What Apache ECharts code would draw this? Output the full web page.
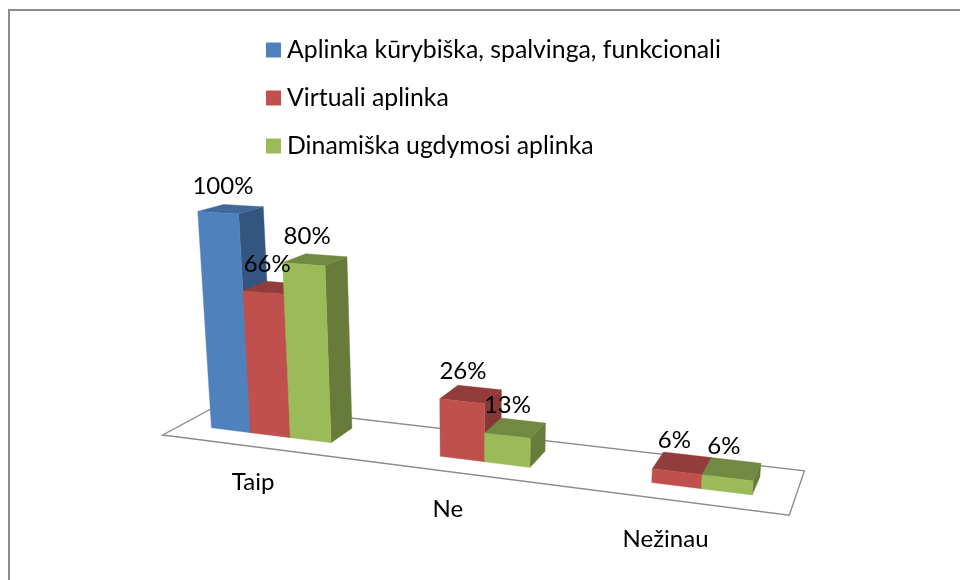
<!DOCTYPE html>
<html>
<head>
<meta charset="utf-8">
<style>html,body{margin:0;padding:0;background:#fff}#c{width:960px;height:580px}</style>
<script src="https://cdn.jsdelivr.net/npm/echarts@6/dist/echarts.min.js"></script>
</head>
<body>
<div id="c"></div>
<script>
var categories = ['Taip', 'Ne', 'Ne\u017Einau'];
var seriesNames = ['Aplinka k\u016Brybi\u0161ka, spalvinga, funkcionali', 'Virtuali aplinka', 'Dinami\u0161ka ugdymosi aplinka'];
var blueValues = [100, null, null];
var redValues = [66, 26, 6];
var greenValues = [80, 13, 6];

var faceColors = [
  { front: '#4F81BD', top: '#41689A', side: '#34557F' },
  { front: '#C0504D', top: '#923D3B', side: '#853835' },
  { front: '#9BBB59', top: '#718941', side: '#677C3B' }
];

// Camera of the original 3D chart: maps (u along the floor, v into depth, h up) to the screen.
var W = 960, H = 580;
var CAM = [
  [504.4, 77.1, -23.84, 162.7],
  [0.5, 0.2, -230.8, 435],
  [-0.1548, 0.08, -0.0505, 1]
];
function project(u, v, h) {
  var x = CAM[0][0] * u + CAM[0][1] * v + CAM[0][2] * h + CAM[0][3];
  var y = CAM[1][0] * u + CAM[1][1] * v + CAM[1][2] * h + CAM[1][3];
  var w = CAM[2][0] * u + CAM[2][1] * v + CAM[2][2] * h + CAM[2][3];
  return [x / w, y / w];
}
var DEPTH_FRONT = 0.318, DEPTH_BACK = 0.737;
var BAR_SHARE = 0.219 / 0.3333 / 3; // one bar as a share of a category band
var BAR_SHIFT = -2;                 // grid pixels
var LABEL_DROP = -0.16;             // category labels hang below the floor

function poly(points, color, z2) {
  return { type: 'polygon', z2: z2, shape: { points: points }, style: { fill: color, stroke: color, lineWidth: 0.4 } };
}

function barRenderer(seriesIndex) {
  return function (params, api) {
    var val = api.value(1);
    if (val == null || isNaN(val)) return;
    var base = api.coord([api.value(0), 0]);
    var tip = api.coord([api.value(0), val]);
    var band = api.size([1, 0])[0];
    var bw = band * BAR_SHARE;
    var gridW = params.coordSys.width, gridH = params.coordSys.height;
    var x0 = base[0] - params.coordSys.x + (seriesIndex - 1.5) * bw + BAR_SHIFT;
    var u0 = x0 / gridW, u1 = (x0 + bw) / gridW;
    var h = (base[1] - tip[1]) / gridH;
    var vf = DEPTH_FRONT, vb = DEPTH_BACK;
    var c = faceColors[seriesIndex];
    var center = project((u0 + u1) / 2, (vf + vb) / 2, h);
    var z = seriesIndex * 3;
    return {
      type: 'group',
      children: [
        poly([project(u1, vf, 0), project(u1, vb, 0), project(u1, vb, h), project(u1, vf, h)], c.side, z),
        poly([project(u0, vf, h), project(u1, vf, h), project(u1, vb, h), project(u0, vb, h)], c.top, z + 1),
        poly([project(u0, vf, 0), project(u1, vf, 0), project(u1, vf, h), project(u0, vf, h)], c.front, z + 2),
        {
          type: 'text', z2: 100,
          style: {
            x: center[0] - 8, y: center[1] - 23, text: val + '%', fill: '#000',
            font: '24px Lato', align: 'center', verticalAlign: 'middle'
          }
        }
      ]
    };
  };
}

function floorRenderer(params, api) {
  var gridW = params.coordSys.width;
  var uc = (api.coord([api.value(0), 0])[0] - params.coordSys.x) / gridW;
  var p = project(uc, 0, LABEL_DROP);
  var children = [{
    type: 'text',
    style: {
      x: p[0] - 2, y: p[1] + 2, text: categories[api.value(0)], fill: '#000',
      font: '24px Lato', align: 'center', verticalAlign: 'middle'
    }
  }];
  if (params.dataIndex === 0) {
    children.unshift({
      type: 'polygon',
      shape: { points: [project(0, 0, 0), project(1, 0, 0), project(1, 1, 0), project(0, 1, 0)] },
      style: { fill: 'none', stroke: '#8C8C8C', lineWidth: 1.4 }
    });
  }
  return { type: 'group', children: children };
}

function rows(values) {
  return values.map(function (v, i) { return [i, v == null ? NaN : v]; });
}

var valueLists = [blueValues, redValues, greenValues];
var series = [{
  type: 'custom', name: 'floor', coordinateSystem: 'cartesian2d', silent: true,
  renderItem: floorRenderer, clip: false, animation: false, z: 1,
  data: categories.map(function (c, i) { return [i, 0]; })
}];
valueLists.forEach(function (values, i) {
  series.push({
    type: 'custom', name: seriesNames[i], coordinateSystem: 'cartesian2d',
    renderItem: barRenderer(i), clip: false, animation: false, z: 2,
    itemStyle: { color: faceColors[i].front },
    encode: { x: 0, y: 1 },
    data: rows(values)
  });
});

var chart = echarts.init(document.getElementById('c'), null, { renderer: 'canvas', width: W, height: H });
chart.setOption({
  animation: false,
  backgroundColor: '#fff',
  color: faceColors.map(function (c) { return c.front; }),
  grid: { left: 0, top: 0, width: W, height: H, containLabel: false, show: false },
  xAxis: { type: 'category', data: categories, show: false },
  yAxis: { type: 'value', min: 0, max: 100, show: false },
  legend: {
    data: seriesNames, orient: 'vertical', left: 266, top: 36, padding: 0,
    icon: 'rect', itemWidth: 15, itemHeight: 15, itemGap: 20, selectedMode: false,
    textStyle: { fontFamily: 'Lato', fontSize: 24.8, color: '#000', padding: [0, 0, 0, 1], lineHeight: 28 }
  },
  graphic: [{
    type: 'rect', silent: true, z: 0,
    shape: { x: 9, y: 10, width: 1000, height: 640 },
    style: { fill: 'none', stroke: '#8C8C8C', lineWidth: 2 }
  }],
  series: series
});
</script>
</body>
</html>
